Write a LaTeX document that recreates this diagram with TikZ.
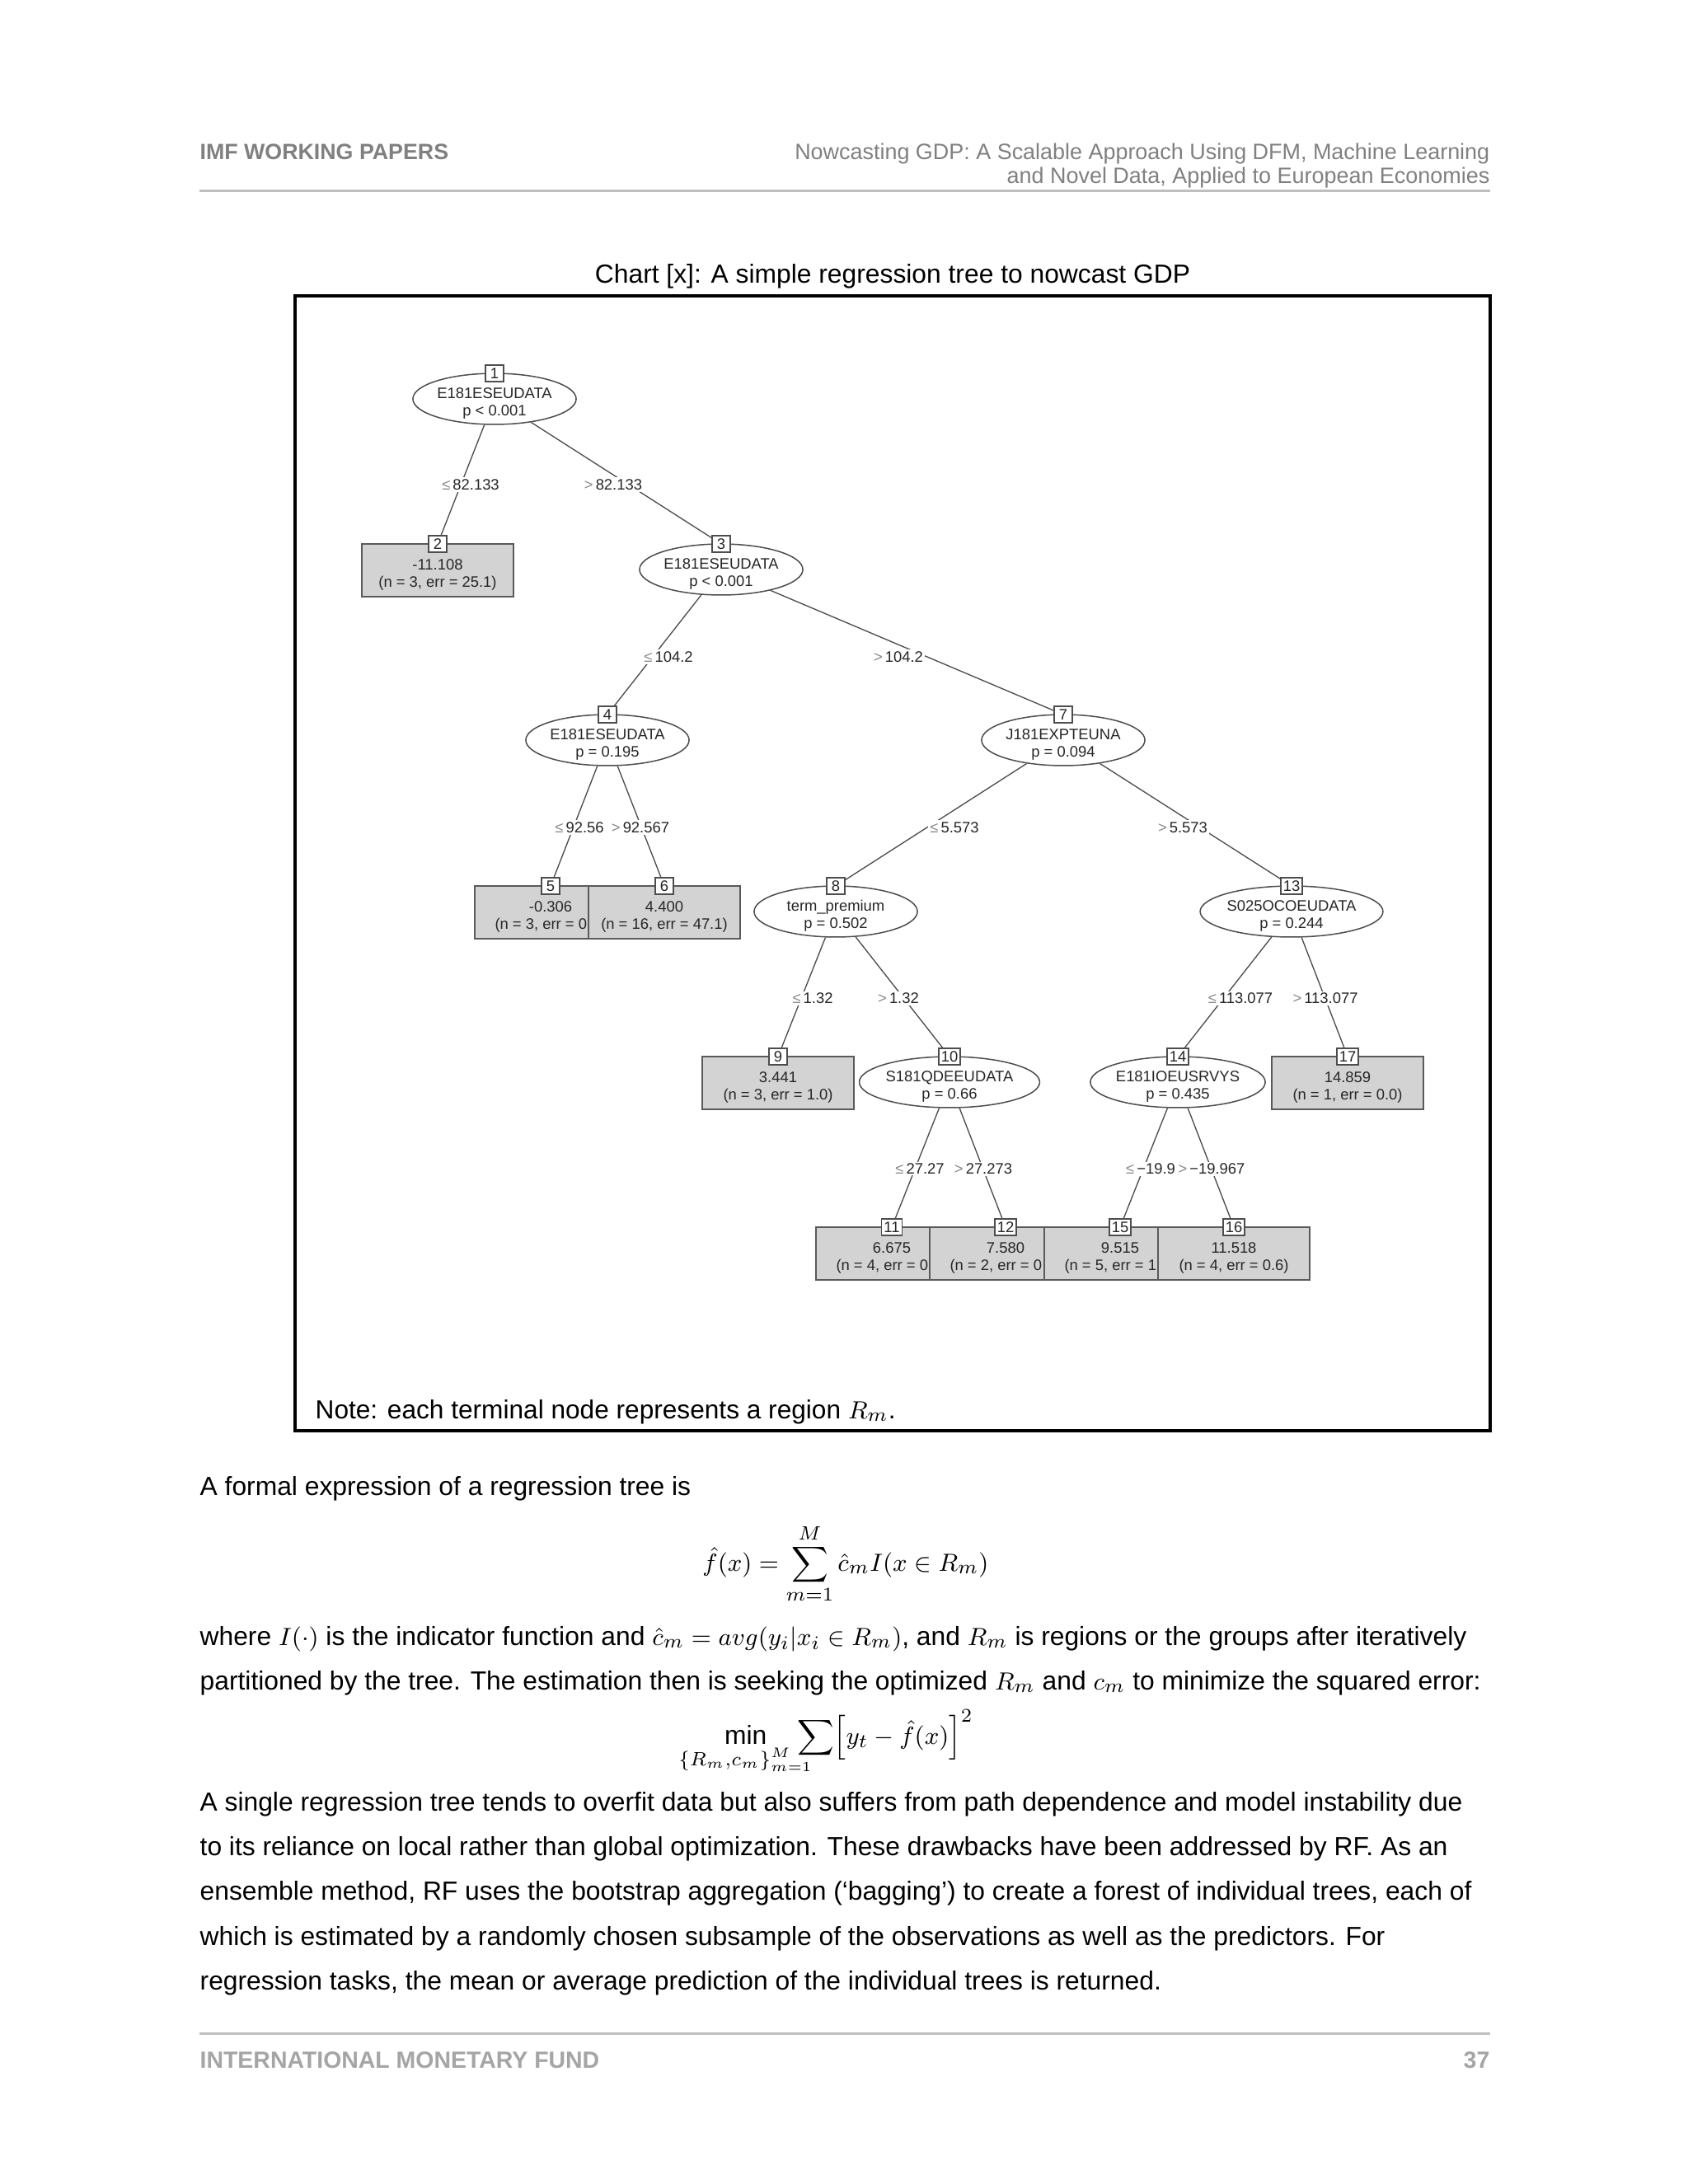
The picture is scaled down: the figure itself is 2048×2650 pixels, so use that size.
\documentclass[tikz,border=0pt]{standalone}
\usepackage{amsmath}
\usepackage{mathtools}
\usepackage{fontspec}
\setmainfont{Liberation Sans}
\usetikzlibrary{shapes.geometric}
\definecolor{hdrgray}{HTML}{808080}
\definecolor{ftrgray}{HTML}{A5A5A5}
\definecolor{rulegray}{HTML}{BFBFBF}
\definecolor{edgegray}{HTML}{4D4D4D}
\definecolor{leafgray}{HTML}{D3D3D3}
\definecolor{leafborder}{HTML}{5A5A5A}
\definecolor{treetext}{HTML}{262626}
\definecolor{symgray}{HTML}{8A8A8A}
\newcommand\treefont{\fontsize{5.5}{6.3}\selectfont}
\newcommand\bodyfont{\fontsize{9.5}{11.4}\selectfont}
\newcommand\lesym{\textcolor{symgray}{≤}\,}
\newcommand\gtsym{\textcolor{symgray}{>}\,}
\newcommand\twoln[2]{\raisebox{-1.6pt}[\height][\depth]{\begin{tabular}{@{}c@{}}#1\\#2\end{tabular}}}
\newcommand\cutln[1]{\hspace*{-7pt}#1}
\tikzset{
  inner/.style={ellipse, draw=edgegray, line width=0.45pt, fill=white,
    minimum width=59.2pt, minimum height=18.5pt, inner sep=0pt,
    font=\treefont, text=treetext},
  leaf/.style={rectangle, draw=leafborder, fill=leafgray, line width=0.45pt,
    minimum width=55pt, minimum height=19.1pt, inner sep=0pt,
    font=\treefont, text=treetext},
  idbox/.style={rectangle, draw=edgegray, fill=white, line width=0.4pt,
    font=\treefont, inner sep=0.8pt, minimum height=6pt, minimum width=6.6pt,
    text=treetext},
  edge/.style={draw=edgegray, line width=0.4pt},
  split/.style={fill=white, inner sep=0.6pt, font=\treefont, text=treetext},
  body/.style={anchor=base west, inner sep=0pt, font=\bodyfont},
}
\begin{document}
\begin{tikzpicture}[x=0.2988pt, y=-0.2988pt]
\fill[white] (0,0) rectangle (2048,2650);
\useasboundingbox (0,0) rectangle (2048,2650);

% header
\node[anchor=base west, inner sep=0pt, font=\fontsize{8}{9.6}\selectfont\bfseries, text=hdrgray] (hdrL) at (242,193) {IMF WORKING PAPERS};
\node[anchor=base east, inner sep=0pt, font=\fontsize{8.05}{9.6}\selectfont, text=hdrgray] (hdrR1) at (1808,193) {Nowcasting GDP: A Scalable Approach Using DFM, Machine Learning};
\node[anchor=base east, inner sep=0pt, font=\fontsize{8.05}{9.6}\selectfont, text=hdrgray] (hdrR2) at (1808,222) {and Novel Data, Applied to European Economies};
\coordinate (hrL) at (242,231);
\coordinate (hrR) at (1808,231);
\draw[rulegray, line width=0.9pt] (hrL) -- (hrR);

% caption and frame
\node[anchor=base, inner sep=0pt, font=\fontsize{9.5}{11}\selectfont] (cap) at (1083,343) {Chart [x]: A simple regression tree to nowcast GDP};
\draw[black, line width=1pt] (358,359) rectangle (1808,1736);
\node[anchor=base west, inner sep=0pt, font=\fontsize{9.45}{11}\selectfont] (note) at (382,1721) {Note: each terminal node represents a region $R_m$.};

% ---------- tree ----------
% level 0
\node[inner] (n1) at (600,484) {\twoln{E181ESEUDATA}{p < 0.001}};
% level 1
\node[leaf] (n2) at (531,692) {\twoln{-11.108}{(n = 3, err = 25.1)}};
\node[inner] (n3) at (875,691) {\twoln{E181ESEUDATA}{p < 0.001}};
% level 2
\node[inner] (n4) at (737,898) {\twoln{E181ESEUDATA}{p = 0.195}};
\node[inner] (n7) at (1290,898) {\twoln{J181EXPTEUNA}{p = 0.094}};
% level 3
\node[leaf] (n5) at (668,1107) {\twoln{-0.306}{\cutln{(n = 3, err = 0}}};
\node[leaf] (n6) at (806,1107) {\twoln{4.400}{(n = 16, err = 47.1)}};
\node[inner] (n8) at (1014,1106) {\twoln{term\_premium}{p = 0.502}};
\node[inner] (n13) at (1567,1106) {\twoln{S025OCOEUDATA}{p = 0.244}};
% level 4
\node[leaf] (n9) at (944,1314) {\twoln{3.441}{(n = 3, err = 1.0)}};
\node[inner] (n10) at (1152,1313) {\twoln{S181QDEEUDATA}{p = 0.66}};
\node[inner] (n14) at (1429,1313) {\twoln{E181IOEUSRVYS}{p = 0.435}};
\node[leaf] (n17) at (1635,1314) {\twoln{14.859}{(n = 1, err = 0.0)}};
% level 5
\node[leaf] (n11) at (1082,1521) {\twoln{6.675}{\cutln{(n = 4, err = 0}}};
\node[leaf] (n12) at (1220,1521) {\twoln{7.580}{\cutln{(n = 2, err = 0}}};
\node[leaf] (n15) at (1359,1521) {\twoln{9.515}{\cutln{(n = 5, err = 1}}};
\node[leaf] (n16) at (1497,1521) {\twoln{11.518}{(n = 4, err = 0.6)}};

% id boxes
\node[idbox] (id1) at (600,453) {1};
\node[idbox] (id2) at (531,660) {2};
\node[idbox] (id3) at (875,660) {3};
\node[idbox] (id4) at (737,867) {4};
\node[idbox] (id7) at (1290,867) {7};
\node[idbox] (id5) at (668,1075) {5};
\node[idbox] (id6) at (806,1075) {6};
\node[idbox] (id8) at (1014,1075) {8};
\node[idbox] (id13) at (1567,1075) {13};
\node[idbox] (id9) at (944,1282) {9};
\node[idbox] (id10) at (1152,1282) {10};
\node[idbox] (id14) at (1429,1282) {14};
\node[idbox] (id17) at (1635,1282) {17};
\node[idbox] (id11) at (1082,1489) {11};
\node[idbox] (id12) at (1220,1489) {12};
\node[idbox] (id15) at (1359,1489) {15};
\node[idbox] (id16) at (1497,1489) {16};

% edges
\draw[edge] (n1) -- (id2);
\draw[edge] (n1) -- (id3);
\draw[edge] (n3) -- (id4);
\draw[edge] (n3) -- (id7);
\draw[edge] (n4) -- (id5);
\draw[edge] (n4) -- (id6);
\draw[edge] (n7) -- (id8);
\draw[edge] (n7) -- (id13);
\draw[edge] (n8) -- (id9);
\draw[edge] (n8) -- (id10);
\draw[edge] (n13) -- (id14);
\draw[edge] (n13) -- (id17);
\draw[edge] (n10) -- (id11);
\draw[edge] (n10) -- (id12);
\draw[edge] (n14) -- (id15);
\draw[edge] (n14) -- (id16);

% split labels
\node[split] (s1a) at (571,588) {\lesym 82.133};
\node[split] (s1b) at (744,588) {\gtsym 82.133};
\node[split] (s3a) at (811,797) {\lesym 104.2};
\node[split] (s3b) at (1090,797) {\gtsym 104.2};
\node[split] (s4a) at (703,1004) {\lesym 92.56};
\node[split] (s4b) at (777,1004) {\gtsym 92.567};
\node[split] (s7a) at (1158,1004) {\lesym 5.573};
\node[split] (s7b) at (1435,1004) {\gtsym 5.573};
\node[split] (s8a) at (986,1211) {\lesym 1.32};
\node[split] (s8b) at (1090,1211) {\gtsym 1.32};
\node[split] (s13a) at (1505,1211) {\lesym 113.077};
\node[split] (s13b) at (1608,1211) {\gtsym 113.077};
\node[split] (s10a) at (1116,1418) {\lesym 27.27};
\node[split] (s10b) at (1193,1418) {\gtsym 27.273};
\node[split] (s14a) at (1396,1418) {\lesym −19.9};
\node[split] (s14b) at (1470,1418) {\gtsym −19.967};

% ---------- body ----------
\node[body] (t1) at (242,1814) {A formal expression of a regression tree is};
\node[anchor=base, inner sep=0pt, font=\fontsize{9.5}{11.4}\selectfont] (eq1) at (1026,1906)
  {$\displaystyle \hat f(x)=\sum_{m=1}^{M}\hat c_m I(x\in R_m)$};
\node[body] (t2) at (242,1996) {where $I(\cdot)$ is the indicator function and $\hat c_m = avg(y_i|x_i\in R_m)$, and $R_m$ is regions or the groups after iteratively};
\node[body] (t3) at (242,2050) {partitioned by the tree. The estimation then is seeking the optimized $R_m$ and $c_m$ to minimize the squared error:};
\node[anchor=base, inner sep=0pt, font=\fontsize{9.5}{11.4}\selectfont] (eq2) at (1030,2116)
  {$\displaystyle \min_{\mathclap{\{R_m,c_m\}_{m=1}^{M}}}\quad\sum\Bigl[y_t-\hat f(x)\Bigr]^2$};
\node[body] (t4) at (242,2197) {A single regression tree tends to overfit data but also suffers from path dependence and model instability due};
\node[body] (t5) at (242,2251) {to its reliance on local rather than global optimization. These drawbacks have been addressed by RF. As an};
\node[body] (t6) at (242,2305) {ensemble method, RF uses the bootstrap aggregation (‘bagging’) to create a forest of individual trees, each of};
\node[body] (t7) at (242,2360) {which is estimated by a randomly chosen subsample of the observations as well as the predictors. For};
\node[body] (t8) at (242,2414) {regression tasks, the mean or average prediction of the individual trees is returned.};

% footer
\coordinate (frL) at (242,2467);
\coordinate (frR) at (1808,2467);
\draw[rulegray, line width=0.9pt] (frL) -- (frR);
\node[anchor=base west, inner sep=0pt, font=\fontsize{8.5}{9.6}\selectfont\bfseries, text=ftrgray] (ftrL) at (242,2509) {INTERNATIONAL MONETARY FUND};
\node[anchor=base east, inner sep=0pt, font=\fontsize{8.5}{9.6}\selectfont\bfseries, text=ftrgray] (ftrR) at (1808,2509) {37};
\end{tikzpicture}
\end{document}
